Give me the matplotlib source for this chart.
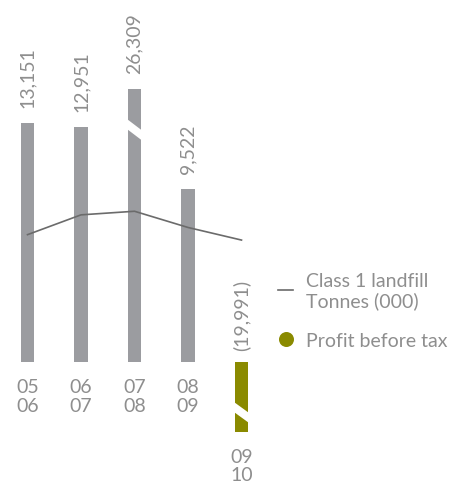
import matplotlib
matplotlib.use("Agg")
import matplotlib.pyplot as plt
from matplotlib.lines import Line2D
from matplotlib.patches import Polygon
import numpy as np

# Data
periods = ["05\n06", "06\n07", "07\n08", "08\n09", "09\n10"]
profit = [13151, 12951, 26309, 9522, -19991]
profit_labels = ["13,151", "12,951", "26,309", "9,522", "(19,991)"]
landfill = [71, 82, 84, 75, 68]

W, H, DPI = 466, 486, 100
BAR_GREY = "#9b9ca0"
OLIVE = "#8a8a00"
LINE_GREY = "#6b6b6b"
TEXT_GREY = "#8e8e8e"
FONT = ["Lato", "DejaVu Sans"]
FW = "normal"
FS = 14

fig = plt.figure(figsize=(W / DPI, H / DPI), dpi=DPI)
fig.patch.set_facecolor("white")

# axes geometry in pixels
ax_left, ax_right = 0.75, 268.25
ax_top, ax_bottom = 89, 432
ax = fig.add_axes([ax_left / W, 1 - ax_bottom / H,
                   (ax_right - ax_left) / W, (ax_bottom - ax_top) / H])
ax.set_xlim(-0.5, len(periods) - 0.5)
ax.set_ylim(-3819, 15027)
ax.axis("off")

x = np.arange(len(periods))
colors = [BAR_GREY if v >= 0 else OLIVE for v in profit]
ax.bar(x, profit, width=0.243, color=colors, zorder=2)

# landfill line on its own scale
ax2 = ax.twinx()
ax2.set_ylim(-38.6, 151.9)
ax2.axis("off")
ax2.plot(x, landfill, color=LINE_GREY, lw=1.2, zorder=3)

lo, hi = ax.get_ylim()
px_per_unit = (ax_bottom - ax_top) / (hi - lo)


def px(v):
    return v / px_per_unit


# axis breaks on the bars that run past the limits
def draw_break(xc, y_left, y_right, thick):
    hw = 0.243 / 2 + 0.02
    poly = Polygon([(xc - hw, y_left), (xc + hw, y_right),
                    (xc + hw, y_right - thick), (xc - hw, y_left - thick)],
                   closed=True, facecolor="white", edgecolor="none", zorder=4)
    ax.add_patch(poly)


for i, v in enumerate(profit):
    if v > hi:
        draw_break(x[i], hi - px(30), hi - px(41.5), px(10))
    elif v < lo:
        draw_break(x[i], lo + px(30), lo + px(19), px(10))

# value labels
for i, (v, lab) in enumerate(zip(profit, profit_labels)):
    if v >= 0:
        y = min(v, hi)
        off = 15
    else:
        y = 0
        off = 11
    ax.annotate(lab, (x[i], y), xytext=(0, off * 0.72), textcoords="offset points",
                rotation=90, ha="center", va="bottom", fontsize=FS, fontweight=FW,
                color=TEXT_GREY, family=FONT, annotation_clip=False)

# period labels
for i, (v, lab) in enumerate(zip(profit, periods)):
    y = 0 if v >= 0 else max(v, lo)
    ax.annotate(lab, (x[i], y), xytext=(0, -17 * 0.72), textcoords="offset points",
                ha="center", va="top", fontsize=FS, fontweight=FW, linespacing=1.1,
                color=TEXT_GREY, family=FONT, annotation_clip=False)

# legend
def fx(p):
    return p / W


def fy(p):
    return 1 - p / H


fig.add_artist(Line2D([fx(278), fx(293)], [fy(290), fy(290)],
                      color=LINE_GREY, lw=1.2))
fig.text(fx(306), fy(287), "Class 1 landfill", fontsize=FS, fontweight=FW,
         color=TEXT_GREY, family=FONT, va="baseline", ha="left")
fig.text(fx(306), fy(307), "Tonnes (000)", fontsize=FS, fontweight=FW,
         color=TEXT_GREY, family=FONT, va="baseline", ha="left")
fig.add_artist(Line2D([fx(286)], [fy(339)], marker="o", markersize=10.8,
                      color=OLIVE, markeredgewidth=0, linestyle="none"))
fig.text(fx(306), fy(347), "Profit before tax", fontsize=FS, fontweight=FW,
         color=TEXT_GREY, family=FONT, va="baseline", ha="left")

fig.savefig("out.png", dpi=DPI, facecolor="white")
